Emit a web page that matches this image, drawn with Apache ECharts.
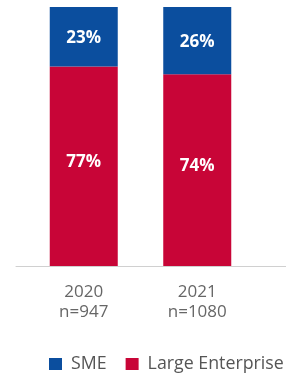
<!DOCTYPE html>
<html><head><meta charset="utf-8">
<script src="https://cdn.jsdelivr.net/npm/echarts@6/dist/echarts.min.js"></script>
<style>html,body{margin:0;padding:0;background:#fff}#c{width:286px;height:375px}</style>
</head><body><div id="c"></div>
<script>
const categories = ['2020\nn=947', '2021\nn=1080'];
const smeValues = [23, 26];
const largeValues = [77, 74];
const seriesNames = ['SME', 'Large Enterprise'];

const chart = echarts.init(document.getElementById('c'));
const font = '"Open Sans", "Noto Sans", sans-serif';
chart.setOption({
  animation: false,
  textStyle: { fontFamily: font },
  legend: {
    data: seriesNames,
    left: 49, top: 355, width: 320, padding: 0,
    itemWidth: 13, itemHeight: 12, itemGap: 19,
    icon: 'rect',
    textStyle: { fontFamily: font, fontSize: 17.8, color: '#555', padding: [0, 0, 0, 4] }
  },
  grid: [
    { left: 27, right: 32, top: 7, bottom: 109 },
    { left: 16, right: 0, top: 7, bottom: 109 }
  ],
  xAxis: [
    {
      type: 'category', data: categories, gridIndex: 0,
      axisLine: { show: false }, axisTick: { show: false },
      axisLabel: { fontFamily: font, fontSize: 17, color: '#666', lineHeight: 20, margin: 16 }
    },
    {
      type: 'value', gridIndex: 1, min: 0, max: 1,
      axisLine: { show: true, lineStyle: { color: '#d0d0d0', width: 1 } },
      axisTick: { show: false }, axisLabel: { show: false }, splitLine: { show: false }
    }
  ],
  yAxis: [
    { type: 'value', gridIndex: 0, min: 0, max: 100, show: false },
    { type: 'value', gridIndex: 1, min: 0, max: 1, show: false }
  ],
  series: [
    {
      name: 'Large Enterprise', type: 'bar', stack: 'a', data: largeValues,
      barWidth: 68, itemStyle: { color: '#c80537' },
      label: { show: true, position: 'inside', formatter: '{c}%', color: '#fff', fontFamily: font, fontWeight: 'bold', fontSize: 17, offset: [0, -4] }
    },
    {
      name: 'SME', type: 'bar', stack: 'a', data: smeValues,
      barWidth: 68, itemStyle: { color: '#0b4e9e' },
      label: { show: true, position: 'inside', formatter: '{c}%', color: '#fff', fontFamily: font, fontWeight: 'bold', fontSize: 17, offset: [0, 1] }
    }
  ]
});
</script></body></html>
